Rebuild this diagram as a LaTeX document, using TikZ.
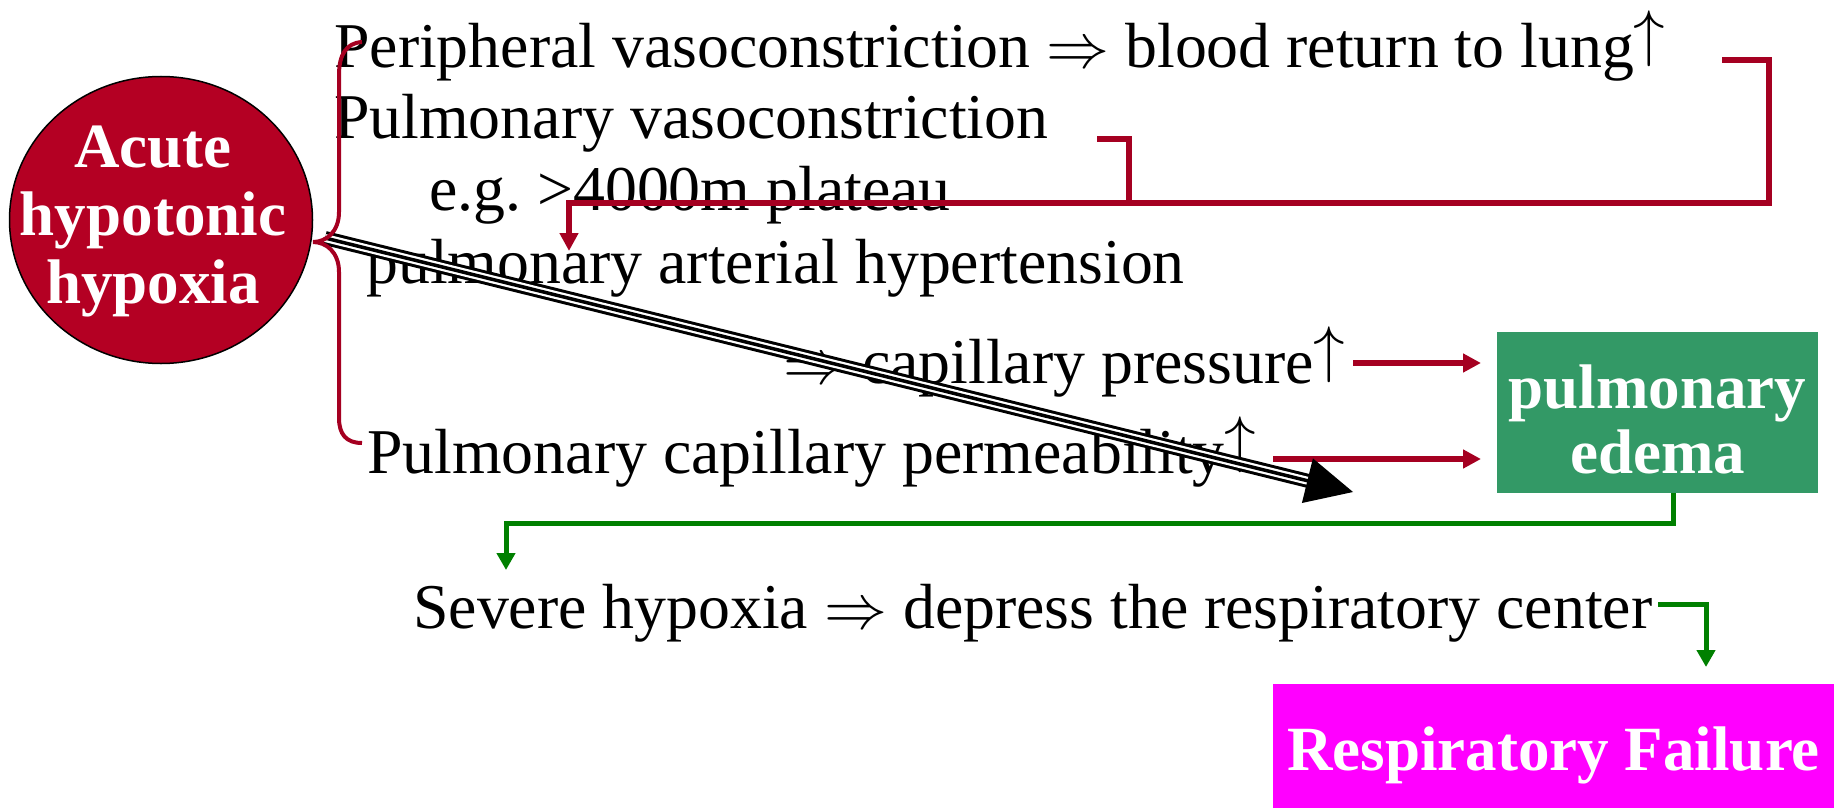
\documentclass[tikz,border=0pt]{standalone}
\usepackage{graphicx}
\usepackage{fontspec}
\setmainfont{Liberation Serif}
\usetikzlibrary{arrows.meta,shapes.geometric}
\definecolor{acutered}{RGB}{180,0,35}
\definecolor{linered}{RGB}{165,0,33}
\definecolor{edemagreen}{RGB}{51,153,102}
\definecolor{linegreen}{RGB}{0,128,0}
\definecolor{failmagenta}{RGB}{255,0,255}
\newcommand{\uparr}{\raisebox{0.19em}{\scalebox{6.3}{\fontsize{10}{12}\selectfont$\uparrow$}}}
\newcommand{\dblarr}{\scalebox{6.3}{\fontsize{10}{12}\selectfont$\Rightarrow$}}
\frenchspacing
\begin{document}
\begin{tikzpicture}[x=1pt,y=-1pt,
  txt/.style={font=\fontsize{63.8}{68}\selectfont, inner sep=0pt, anchor=base west, text=black},
  btxt/.style={font=\fontsize{63}{68}\selectfont\bfseries, inner sep=0pt, anchor=base, text=white},
  redline/.style={draw=linered, line width=6pt},
  redarrow/.style={redline, -{Triangle[length=18pt,width=18pt]}},
  greenline/.style={draw=linegreen, line width=5pt},
  greenarrow/.style={greenline, -{Triangle[length=17pt,width=18pt]}},
  bracestyle/.style={draw=linered, line width=4pt}
]
\useasboundingbox (0,0) rectangle (1837,808);

% main shapes
\node[ellipse, draw=black, line width=1.5pt, fill=acutered, minimum width=303pt, minimum height=287pt, inner sep=0pt] (acute) at (161,220) {};
\node[btxt] (acute1) at (153,167) {Acute};
\node[btxt] (acute2) at (153,235) {hypotonic};
\node[btxt] (acute3) at (153,303) {hypoxia};

\node[rectangle, fill=edemagreen, minimum width=321pt, minimum height=161pt, inner sep=0pt] (edema) at (1657.5,412.5) {};
\node[btxt] (edema1) at (1657.5,408) {pulmonary};
\node[btxt] (edema2) at (1657.5,473) {edema};

\node[rectangle, fill=failmagenta, minimum width=561pt, minimum height=124pt, inner sep=0pt] (fail) at (1553.5,746) {};
\node[btxt] (fail1) at (1553.5,770) {Respiratory Failure};

% text lines
\node[txt] (l1) at (334,67) {Peripheral vasoconstriction \dblarr{} blood return to lung\uparr};
\node[txt] (l2) at (334,138) {Pulmonary vasoconstriction};
\node[txt] (l3) at (429,210) {e.g. >4000m plateau};
\node[txt] (l4) at (366,283) {pulmonary arterial hypertension};
\node[txt] (l5) at (783,383) {\dblarr{} capillary pressure\uparr};
\node[txt] (l6) at (367,473) {Pulmonary capillary permeability\uparr};
\node[txt] (l7) at (413,628) {Severe hypoxia \dblarr{} depress the respiratory center};

% red connectors
\coordinate (r1a) at (1722,60);
\coordinate (r1b) at (1769,60);
\coordinate (r1c) at (1769,203);
\coordinate (r2a) at (1097,139);
\coordinate (r2b) at (1129,139);
\coordinate (r2c) at (1129,203);
\coordinate (rj) at (569,203);
\coordinate (rt) at (569,251);
\draw[redline] (r2a) -- (r2b) -- (r2c);
\draw[redarrow] (r1a) -- (r1b) -- (r1c) -- (rj) -- (rt);

\coordinate (cp1) at (1353,363);
\coordinate (cp2) at (1481,363);
\coordinate (pm1) at (1273,459);
\coordinate (pm2) at (1481,459);
\draw[redarrow] (cp1) -- (cp2);
\draw[redarrow] (pm1) -- (pm2);

% green connectors
\coordinate (g1) at (1673,493);
\coordinate (g2) at (1673,523);
\coordinate (g3) at (506,523);
\coordinate (g4) at (506,570);
\draw[greenarrow] (g1) -- (g2) -- (g3) -- (g4);
\coordinate (h1) at (1658,604);
\coordinate (h2) at (1706,604);
\coordinate (h3) at (1706,667);
\draw[greenarrow] (h1) -- (h2) -- (h3);

% triple arrow
\coordinate (ts) at (325,238);
\coordinate (tm) at (1314.2,482.4);
\coordinate (tt) at (1353,492);
\coordinate (tb1) at (1312.9,458.4);
\coordinate (tb2) at (1301.9,503.0);
\draw[line width=14pt] (ts) -- (tm);
\draw[white, line width=8pt] (ts) -- (tm);
\draw[line width=3.5pt] (ts) -- (tm);
\fill (tt) -- (tb1) -- (tb2) -- cycle;

% brace
\draw[bracestyle] (362,42) .. controls (346,43) and (339,55) .. (339,75) -- (339,212) .. controls (339,232) and (326,242) .. (313,242) .. controls (326,242) and (339,252) .. (339,272) -- (339,418) .. controls (339,434) and (346,443) .. (362,443);
\end{tikzpicture}
\end{document}
